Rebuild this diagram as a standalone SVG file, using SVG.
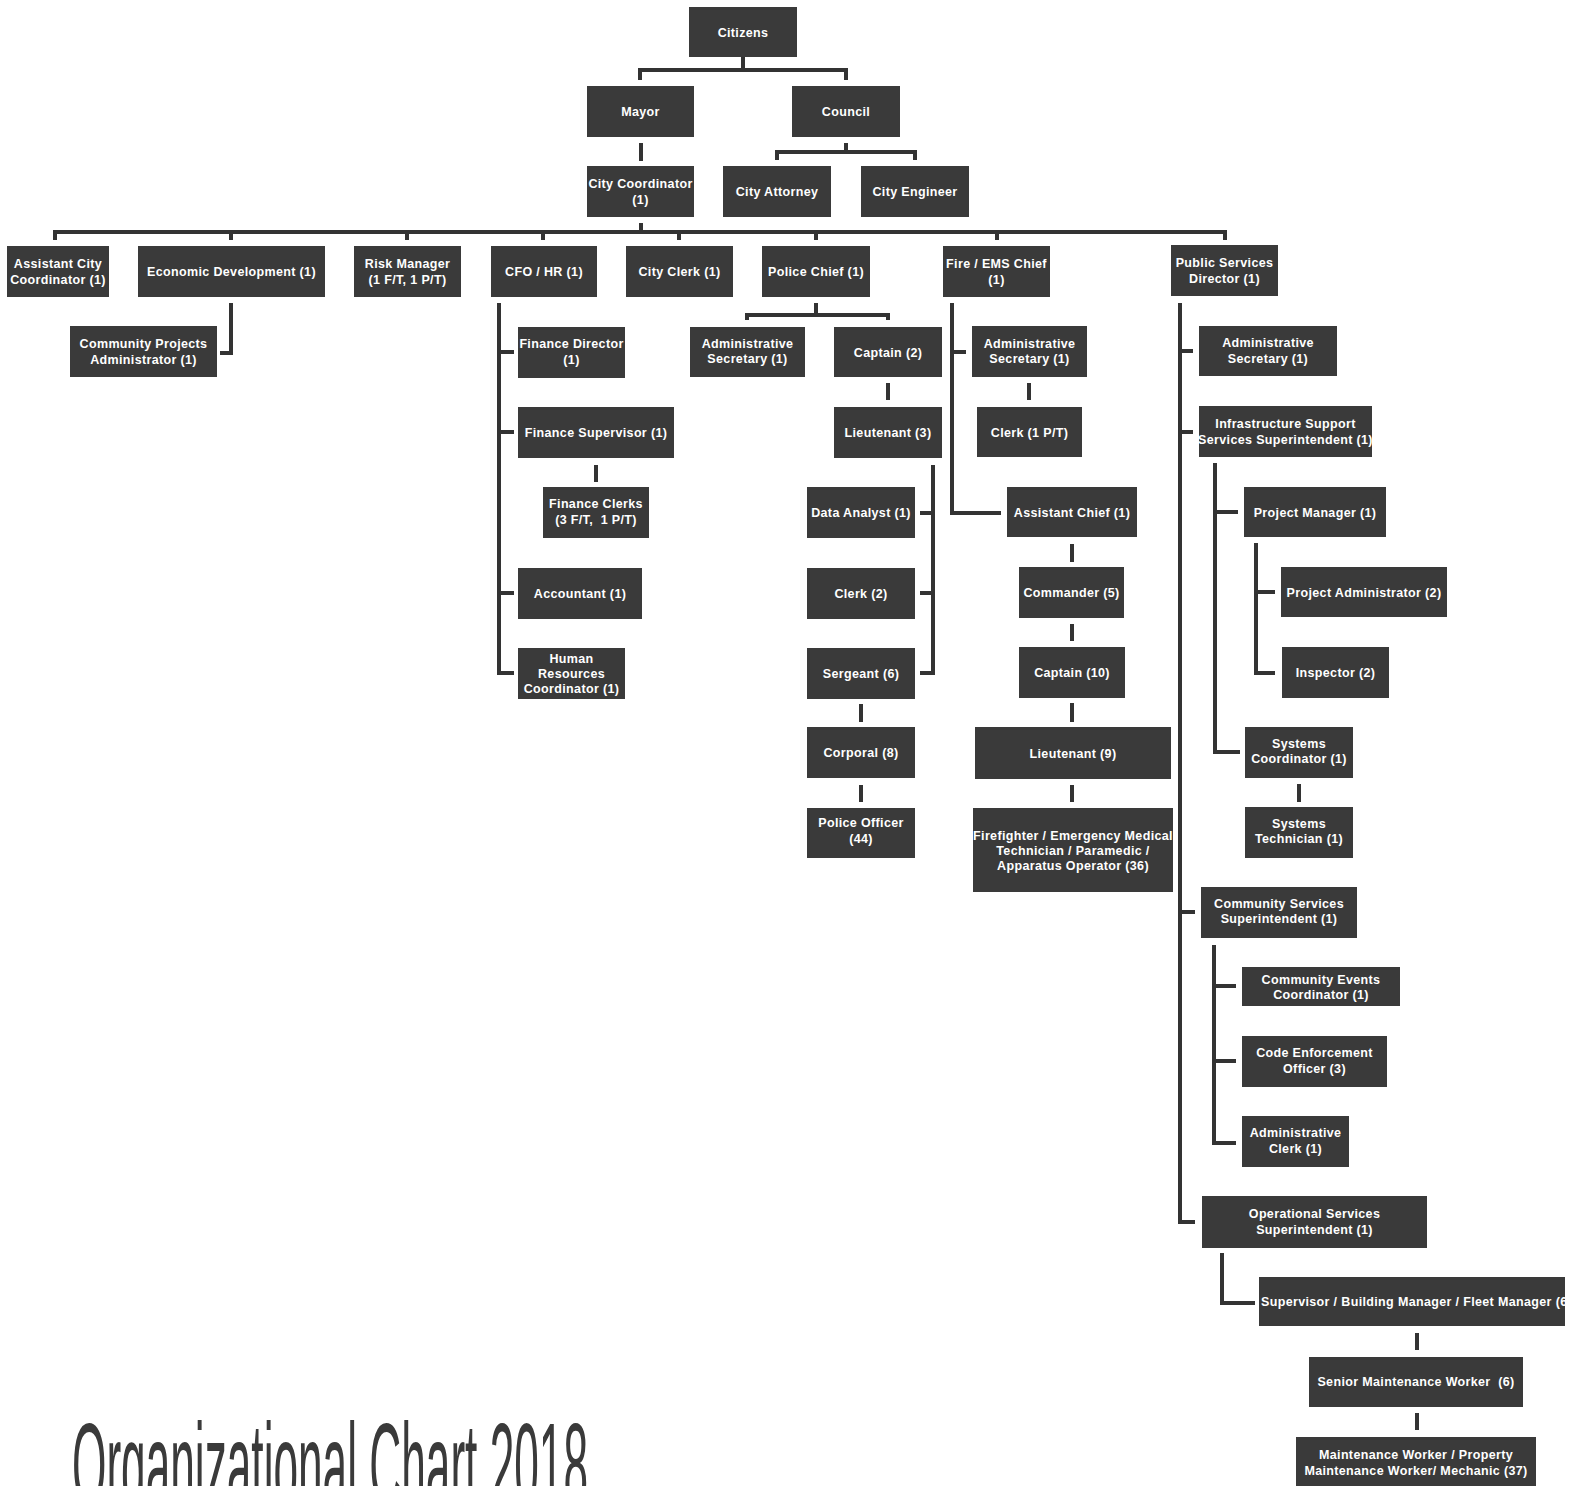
<svg xmlns="http://www.w3.org/2000/svg" width="1575" height="1486" viewBox="0 0 1575 1486">
<style>
.b{fill:#3a3a3a}
.t{fill:#fff;font-family:"Liberation Sans",Arial,sans-serif;font-weight:bold;font-size:12.5px;letter-spacing:.35px;text-anchor:middle}
.c{fill:none;stroke:#333;stroke-width:4;stroke-linejoin:miter}
.title{fill:#3a3a3a;font-family:"Liberation Sans",Arial,sans-serif;font-size:118px}
</style>
<rect width="1575" height="1486" fill="#fff"/>
<g id="connectors" class="c">
<path d="M743 57V70M640 80V70H846V80"/>
<path d="M641 143V161"/>
<path d="M846 143V152M777 160V152H915V160"/>
<path d="M641 223V232M55 240V232H1225V240M231 232V240M407 232V240M543 232V240M679 232V240M816 232V240M997 232V240"/>
<path d="M231 303V353H220"/>
<path d="M499 303V673H514M499 352H514M499 432H514M499 593H514"/>
<path d="M596 465V482"/>
<path d="M816 303V315M747 320V315H888V320"/>
<path d="M888 383V400"/>
<path d="M933 465V673H920M933 513H920M933 593H920"/>
<path d="M861 704V722M861 785V802"/>
<path d="M952 303V513H1001M952 352H966"/>
<path d="M1029 383V400"/>
<path d="M1072 544V562M1072 624V641M1072 703V722M1072 785V802"/>
<path d="M1180 303V1222H1195M1180 351H1193M1180 432H1193M1180 912H1195"/>
<path d="M1215 463V752H1240M1215 512H1238"/>
<path d="M1256 543V673H1275M1256 592H1275"/>
<path d="M1299 784V802"/>
<path d="M1214 945V1143H1236M1214 986H1236M1214 1061H1236"/>
<path d="M1222 1253V1303H1255"/>
<path d="M1417 1333V1350M1417 1413V1430"/>
</g>
<g id="citizens"><rect class="b" x="689" y="7" width="108" height="50"/><text class="t" x="743" y="36.5">Citizens</text></g>
<g id="mayor"><rect class="b" x="587" y="86" width="107" height="51"/><text class="t" x="640.5" y="116">Mayor</text></g>
<g id="council"><rect class="b" x="792" y="86" width="108" height="51"/><text class="t" x="846" y="116">Council</text></g>
<g id="city-coordinator"><rect class="b" x="587" y="166" width="107" height="51"/><text class="t" x="640.5" y="188">City Coordinator</text><text class="t" x="640.5" y="203.5">(1)</text></g>
<g id="city-attorney"><rect class="b" x="723" y="166" width="108" height="51"/><text class="t" x="777" y="196">City Attorney</text></g>
<g id="city-engineer"><rect class="b" x="861" y="166" width="108" height="51"/><text class="t" x="915" y="196">City Engineer</text></g>
<g id="assistant-city-coordinator"><rect class="b" x="7" y="246" width="102" height="51"/><text class="t" x="58" y="268">Assistant City</text><text class="t" x="58" y="283.5">Coordinator (1)</text></g>
<g id="economic-development"><rect class="b" x="138" y="246" width="187" height="51"/><text class="t" x="231.5" y="276">Economic Development (1)</text></g>
<g id="risk-manager"><rect class="b" x="354" y="246" width="107" height="51"/><text class="t" x="407.5" y="268">Risk Manager</text><text class="t" x="407.5" y="283.5">(1 F/T, 1 P/T)</text></g>
<g id="cfo-hr"><rect class="b" x="491" y="246" width="106" height="51"/><text class="t" x="544" y="276">CFO / HR (1)</text></g>
<g id="city-clerk"><rect class="b" x="626" y="246" width="107" height="51"/><text class="t" x="679.5" y="276">City Clerk (1)</text></g>
<g id="police-chief"><rect class="b" x="762" y="246" width="108" height="51"/><text class="t" x="816" y="276">Police Chief (1)</text></g>
<g id="fire-ems-chief"><rect class="b" x="943" y="246" width="107" height="51"/><text class="t" x="996.5" y="268">Fire / EMS Chief</text><text class="t" x="996.5" y="283.5">(1)</text></g>
<g id="public-services-director"><rect class="b" x="1171" y="245" width="107" height="51"/><text class="t" x="1224.5" y="267">Public Services</text><text class="t" x="1224.5" y="282.5">Director (1)</text></g>
<g id="community-projects-administrator"><rect class="b" x="70" y="326" width="147" height="51"/><text class="t" x="143.5" y="348">Community Projects</text><text class="t" x="143.5" y="363.5">Administrator (1)</text></g>
<g id="finance-director"><rect class="b" x="518" y="327" width="107" height="51"/><text class="t" x="571.5" y="348">Finance Director</text><text class="t" x="571.5" y="363.5">(1)</text></g>
<g id="finance-supervisor"><rect class="b" x="518" y="407" width="156" height="51"/><text class="t" x="596" y="437">Finance Supervisor (1)</text></g>
<g id="finance-clerks"><rect class="b" x="543" y="487" width="106" height="51"/><text class="t" x="596" y="508">Finance Clerks</text><text class="t" x="596" y="523.5" xml:space="preserve">(3 F/T,  1 P/T)</text></g>
<g id="accountant"><rect class="b" x="518" y="568" width="124" height="51"/><text class="t" x="580" y="597.5">Accountant (1)</text></g>
<g id="human-resources-coordinator"><rect class="b" x="518" y="648" width="107" height="51"/><text class="t" x="571.5" y="662.5">Human</text><text class="t" x="571.5" y="677.5">Resources</text><text class="t" x="571.5" y="692.5">Coordinator (1)</text></g>
<g id="police-administrative-secretary"><rect class="b" x="690" y="327" width="115" height="50"/><text class="t" x="747.5" y="347.5">Administrative</text><text class="t" x="747.5" y="363">Secretary (1)</text></g>
<g id="police-captain"><rect class="b" x="834" y="327" width="108" height="50"/><text class="t" x="888" y="356.5">Captain (2)</text></g>
<g id="police-lieutenant"><rect class="b" x="834" y="407" width="108" height="51"/><text class="t" x="888" y="437">Lieutenant (3)</text></g>
<g id="data-analyst"><rect class="b" x="807" y="487" width="108" height="51"/><text class="t" x="861" y="517">Data Analyst (1)</text></g>
<g id="police-clerk"><rect class="b" x="807" y="568" width="108" height="51"/><text class="t" x="861" y="597.5">Clerk (2)</text></g>
<g id="sergeant"><rect class="b" x="807" y="648" width="108" height="51"/><text class="t" x="861" y="677.5">Sergeant (6)</text></g>
<g id="corporal"><rect class="b" x="807" y="727" width="108" height="51"/><text class="t" x="861" y="757">Corporal (8)</text></g>
<g id="police-officer"><rect class="b" x="807" y="808" width="108" height="50"/><text class="t" x="861" y="827">Police Officer</text><text class="t" x="861" y="842.5">(44)</text></g>
<g id="fire-administrative-secretary"><rect class="b" x="972" y="326" width="115" height="51"/><text class="t" x="1029.5" y="347.5">Administrative</text><text class="t" x="1029.5" y="363">Secretary (1)</text></g>
<g id="fire-clerk"><rect class="b" x="977" y="407" width="105" height="50"/><text class="t" x="1029.5" y="436.5">Clerk (1 P/T)</text></g>
<g id="assistant-chief"><rect class="b" x="1007" y="487" width="130" height="50"/><text class="t" x="1072" y="516.5">Assistant Chief (1)</text></g>
<g id="commander"><rect class="b" x="1019" y="567" width="105" height="51"/><text class="t" x="1071.5" y="597">Commander (5)</text></g>
<g id="fire-captain"><rect class="b" x="1019" y="647" width="106" height="51"/><text class="t" x="1072" y="677">Captain (10)</text></g>
<g id="fire-lieutenant"><rect class="b" x="975" y="727" width="196" height="52"/><text class="t" x="1073" y="757.5">Lieutenant (9)</text></g>
<g id="firefighter"><rect class="b" x="973" y="808" width="200" height="84"/><text class="t" x="1073" y="839.5">Firefighter / Emergency Medical</text><text class="t" x="1073" y="854.5">Technician / Paramedic /</text><text class="t" x="1073" y="869.5">Apparatus Operator (36)</text></g>
<g id="ps-administrative-secretary"><rect class="b" x="1199" y="326" width="138" height="50"/><text class="t" x="1268" y="347">Administrative</text><text class="t" x="1268" y="362.5">Secretary (1)</text></g>
<g id="infrastructure-superintendent"><rect class="b" x="1199" y="406" width="173" height="51"/><text class="t" x="1285.5" y="428">Infrastructure Support</text><text class="t" x="1285.5" y="443.5">Services Superintendent (1)</text></g>
<g id="project-manager"><rect class="b" x="1244" y="487" width="142" height="50"/><text class="t" x="1315" y="516.5">Project Manager (1)</text></g>
<g id="project-administrator"><rect class="b" x="1281" y="567" width="166" height="50"/><text class="t" x="1364" y="596.5">Project Administrator (2)</text></g>
<g id="inspector"><rect class="b" x="1282" y="647" width="107" height="51"/><text class="t" x="1335.5" y="677">Inspector (2)</text></g>
<g id="systems-coordinator"><rect class="b" x="1245" y="727" width="108" height="51"/><text class="t" x="1299" y="747.5">Systems</text><text class="t" x="1299" y="763">Coordinator (1)</text></g>
<g id="systems-technician"><rect class="b" x="1245" y="807" width="108" height="51"/><text class="t" x="1299" y="827.5">Systems</text><text class="t" x="1299" y="843">Technician (1)</text></g>
<g id="community-services-superintendent"><rect class="b" x="1201" y="887" width="156" height="51"/><text class="t" x="1279" y="907.5">Community Services</text><text class="t" x="1279" y="923">Superintendent (1)</text></g>
<g id="community-events-coordinator"><rect class="b" x="1242" y="967" width="158" height="39"/><text class="t" x="1321" y="983.5">Community Events</text><text class="t" x="1321" y="999">Coordinator (1)</text></g>
<g id="code-enforcement-officer"><rect class="b" x="1242" y="1036" width="145" height="51"/><text class="t" x="1314.5" y="1057">Code Enforcement</text><text class="t" x="1314.5" y="1072.5">Officer (3)</text></g>
<g id="administrative-clerk"><rect class="b" x="1242" y="1116" width="107" height="51"/><text class="t" x="1295.5" y="1137">Administrative</text><text class="t" x="1295.5" y="1152.5">Clerk (1)</text></g>
<g id="operational-services-superintendent"><rect class="b" x="1202" y="1196" width="225" height="52"/><text class="t" x="1314.5" y="1218">Operational Services</text><text class="t" x="1314.5" y="1233.5">Superintendent (1)</text></g>
<g id="supervisor"><rect class="b" x="1259" y="1277" width="306" height="49"/><text class="t" x="1261" y="1306" style="text-anchor:start">Supervisor / Building Manager / Fleet Manager (6</text></g>
<g id="senior-maintenance-worker"><rect class="b" x="1309" y="1357" width="214" height="50"/><text class="t" x="1416" y="1386" xml:space="preserve">Senior Maintenance Worker  (6)</text></g>
<g id="maintenance-worker"><rect class="b" x="1296" y="1437" width="240" height="60"/><text class="t" x="1416" y="1458.5">Maintenance Worker / Property</text><text class="t" x="1416" y="1475">Maintenance Worker/ Mechanic (37)</text></g>
<text class="title" x="72" y="1506" textLength="516" lengthAdjust="spacingAndGlyphs">Organizational Chart 2018</text>
</svg>
